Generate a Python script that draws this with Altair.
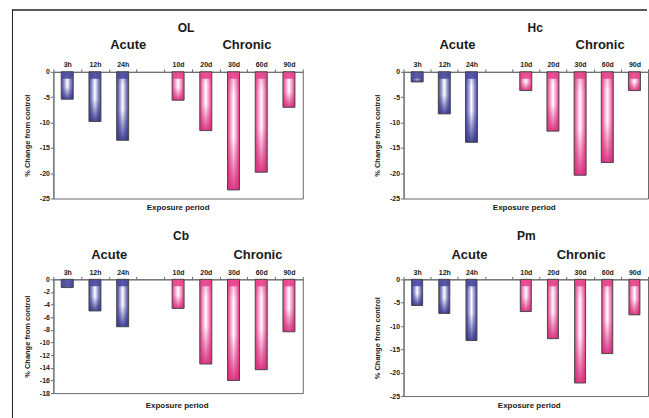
import altair as alt
import pandas as pd

FONT = "Liberation Sans"

periods = ["3h", "12h", "24h", " ", "10d", "20d", "30d", "60d", "90d"]
bar_periods = ["3h", "12h", "24h", "10d", "20d", "30d", "60d", "90d"]
groups = ["Acute", "Acute", "Acute", "Chronic", "Chronic", "Chronic", "Chronic", "Chronic"]

ol_vals = [-5.4, -9.8, -13.5, -5.6, -11.6, -23.3, -19.8, -7.0]
hc_vals = [-2.0, -8.3, -13.9, -3.7, -11.7, -20.4, -17.9, -3.7]
cb_vals = [-1.3, -5.0, -7.5, -4.6, -13.4, -16.0, -14.3, -8.3]
pm_vals = [-5.6, -7.3, -13.1, -6.9, -12.7, -22.2, -15.9, -7.6]

ACUTE = {"dark": "#3f3f98", "mid": "#8c8cc8", "rgb": (52, 52, 140), "band": "#4a4aa0"}
CHRON = {"dark": "#e2327f", "mid": "#f291c0", "rgb": (214, 40, 120), "band": "#e8448c"}
AXC = "#6a6a6a"
TXT = "#1a1a1a"


def hgrad(c):
    return alt.Gradient(
        gradient="linear", x1=0, x2=1, y1=0, y2=0,
        stops=[
            alt.GradientStop(offset=0, color=c["dark"]),
            alt.GradientStop(offset=0.22, color=c["mid"]),
            alt.GradientStop(offset=0.5, color="#ffffff"),
            alt.GradientStop(offset=0.78, color=c["mid"]),
            alt.GradientStop(offset=1, color=c["dark"]),
        ],
    )


def vgrad(c):
    r, g, b = c["rgb"]
    return alt.Gradient(
        gradient="linear", x1=0, x2=0, y1=0, y2=1,
        stops=[
            alt.GradientStop(offset=0, color=f"rgba({r},{g},{b},0.35)"),
            alt.GradientStop(offset=0.2, color=f"rgba({r},{g},{b},0)"),
            alt.GradientStop(offset=0.55, color=f"rgba({r},{g},{b},0)"),
            alt.GradientStop(offset=1, color=f"rgba({r},{g},{b},0.9)"),
        ],
    )


one = pd.DataFrame({"a": [0]})


def txt(s, x, y, size):
    return alt.Chart(one).mark_text(
        text=s, fontSize=size, fontWeight="bold", font=FONT, color=TXT,
        baseline="middle", align="center"
    ).encode(x=alt.value(x), y=alt.value(y))


def value_rect(x0, x1, y0, y1, color):
    return alt.Chart(one).mark_rect(color=color).encode(
        x=alt.value(x0), x2=alt.value(x1), y=alt.value(y0), y2=alt.value(y1))


def scaled_rect(x0, x1, y0, y1, color):
    # pixel-identity scales so the decoration line goes through Vega-Lite scales
    ident = alt.Scale(domain=[0, 100], range=[0, 100], zero=False, nice=False)
    return alt.Chart(one).mark_rect(color=color).encode(
        x=alt.X(datum=x0, type="quantitative", scale=ident, axis=None),
        x2=alt.X2(datum=x1),
        y=alt.Y(datum=y0, type="quantitative", scale=ident, axis=None),
        y2=alt.Y2(datum=y1),
    )


def panel(name, vals, ymin, ystep, width, height, barsize,
          title_xy, acute_xy, chronic_xy, exp_xy, frame=False):
    df = pd.DataFrame({"period": bar_periods, "group": groups, "value": vals})
    xs = alt.Scale(domain=periods, paddingInner=0, paddingOuter=0)
    ys = alt.Scale(domain=[ymin, 0], nice=False, zero=False)
    xaxis = alt.Axis(orient="top", title=None, tickBand="extent", labelAngle=0,
                     grid=False, tickSize=3, labelPadding=1, labelFontSize=7,
                     labelFontWeight="bold", labelFont=FONT, labelColor=TXT,
                     domainColor=AXC, tickColor=AXC)
    yaxis = alt.Axis(orient="left", values=list(range(ymin, 1, ystep)),
                     title="% Change from control", labelExpr="'' + datum.value",
                     grid=False, tickSize=3, labelPadding=1,
                     labelFontSize=7, labelFontWeight="bold", labelFont=FONT,
                     labelColor=TXT, domainColor=AXC, tickColor=AXC,
                     labelOverlap=False,
                     titleFontSize=7.5, titleFontWeight="bold", titleFont=FONT,
                     titleColor=TXT, titlePadding=8)
    base = alt.Chart(df)
    layers = []
    first = True
    for gname, c in (("Acute", ACUTE), ("Chronic", CHRON)):
        sub = base.transform_filter(alt.datum.group == gname)
        layers.append(sub.mark_bar(size=barsize, fill=hgrad(c)).encode(
            x=alt.X("period:N", scale=xs, axis=xaxis if first else None),
            y=alt.Y("value:Q", scale=ys, axis=yaxis if first else None),
        ))
        first = False
        layers.append(sub.mark_bar(size=barsize, fill=vgrad(c)).encode(
            x=alt.X("period:N", scale=xs, axis=None),
            y=alt.Y("value:Q", scale=ys, axis=None),
        ))
        layers.append(sub.mark_tick(size=barsize, thickness=14, clip=True,
                                    color=c["band"], opacity=0.9, orient="horizontal").encode(
            x=alt.X("period:N", scale=xs, axis=None),
            y=alt.Y(datum=0, type="quantitative", scale=ys, axis=None),
        ))
    layers.append(base.mark_bar(size=barsize, fillOpacity=0, stroke="#4a4a4a",
                                strokeWidth=1).encode(
        x=alt.X("period:N", scale=xs, axis=None),
        y=alt.Y("value:Q", scale=ys, axis=None),
    ))
    layers.append(txt(name, title_xy[0], title_xy[1], 12))
    layers.append(txt("Acute", acute_xy[0], acute_xy[1], 13))
    layers.append(txt("Chronic", chronic_xy[0], chronic_xy[1], 13))
    layers.append(txt("Exposure period", exp_xy[0], exp_xy[1], 8))
    if frame:
        layers.append(scaled_rect(-41.5, 595, -62.5, -61.5, "#222222"))
        layers.append(value_rect(-41.5, 595, -62.5, -61.5, "#222222"))
        layers.append(value_rect(-41.5, -40.5, -62.5, 347, "#222222"))
    return (alt.layer(*layers)
            .resolve_scale(x="independent", y="independent")
            .resolve_axis(x="independent", y="independent")
            .properties(width=width, height=height))


ol = panel("OL", ol_vals, -25, 5, 250, 127, 12,
           (133, -44), (75, -27), (194, -27), (125, 136), frame=True)
hc = panel("Hc", hc_vals, -25, 5, 245, 127, 12,
           (132, -44), (54, -27), (197, -27), (121, 136))
cb = panel("Cb", cb_vals, -18, 2, 250, 114, 12,
           (128, -43), (56, -24), (205, -24), (124, 127))
pm = panel("Pm", pm_vals, -25, 5, 245, 117, 11,
           (123, -43), (66, -24), (178, -24), (126, 127))

chart = alt.concat(ol, hc, cb, pm, columns=2, spacing={"row": 81, "column": 101},
                   bounds="flush").properties(
    padding={"left": 11.5, "top": 8.5, "right": 0, "bottom": 0},
    background="white",
).configure_view(stroke=AXC, strokeWidth=1)

chart.save("out.html", embed_options={"renderer": "svg", "actions": False})
